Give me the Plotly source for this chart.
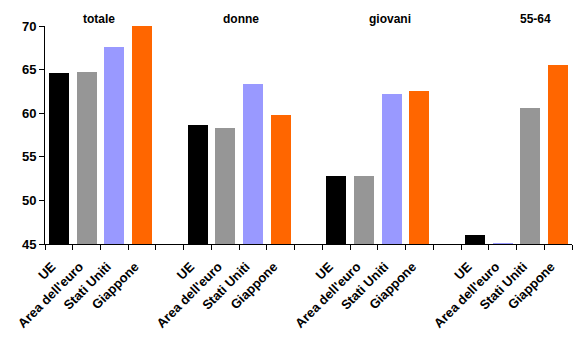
import plotly.graph_objects as go

# Tasso di occupazione per gruppo (valori percentuali)
groups = ["totale", "donne", "giovani", "55-64"]
countries = ["UE", "Area dell'euro", "Stati Uniti", "Giappone"]
totale = [64.6, 64.7, 67.6, 70.0]
donne = [58.65, 58.3, 63.35, 59.8]
giovani = [52.8, 52.8, 62.2, 62.6]
anziani = [46.0, 45.1, 60.6, 65.5]
series = [totale, donne, giovani, anziani]

# bar colours, one list per group
BLACK, GREY, LILAC, ORANGE = "#000000", "#969696", "#9999FF", "#FF6600"
group_colors = [
    [BLACK, GREY, LILAC, ORANGE],
    [BLACK, GREY, LILAC, ORANGE],
    [BLACK, GREY, LILAC, ORANGE],
    [BLACK, LILAC, GREY, ORANGE],
]
# horizontal position of each group heading (axis units)
title_x = [1.45, 6.55, 11.95, 17.2]

SLOT = len(countries) + 1  # one empty slot between groups
xs, ys, cols, labels = [], [], [], []
for g, vals in enumerate(series):
    for i, v in enumerate(vals):
        xs.append(g * SLOT + i)
        ys.append(v)
        cols.append(group_colors[g][i])
        labels.append(countries[i])
n_slots = SLOT * len(groups) - 1
xr = [-0.5, n_slots - 0.5]

font = dict(family="Liberation Sans, Arial, sans-serif", size=12, color="black")

fig = go.Figure()
fig.add_trace(go.Bar(x=xs, y=ys, marker=dict(color=cols, line=dict(width=0)),
                     width=0.72, hoverinfo="y"))
# invisible helper trace for the boundary tick axis
fig.add_trace(go.Scatter(x=xr, y=[45, 45], xaxis="x2", mode="lines",
                         line=dict(width=0), hoverinfo="skip", showlegend=False))

for g, name in enumerate(groups):
    fig.add_annotation(x=title_x[g], y=1.0, xref="x", yref="paper", yshift=16,
                       text="<b>%s</b>" % name, showarrow=False,
                       font=dict(family=font["family"], size=12, color="black"))

fig.update_layout(
    width=588, height=341,
    margin=dict(l=45, r=16, t=26, b=97),
    paper_bgcolor="white", plot_bgcolor="white",
    showlegend=False, bargap=0,
    font=font,
    xaxis=dict(range=xr, tickmode="array", tickvals=xs,
               ticktext=["<b>%s</b>" % t for t in labels],
               tickangle=-45, ticks="", showline=True, linecolor="black",
               linewidth=1, showgrid=False, zeroline=False, automargin=False,
               ticklabelstandoff=9, ticklabelshift=-7,
               tickfont=dict(size=13)),
    xaxis2=dict(range=xr, overlaying="x", anchor="y", side="bottom",
                tickmode="array", tickvals=[k - 0.5 for k in range(n_slots + 1)],
                ticks="outside", ticklen=5, tickcolor="black",
                showticklabels=False, showline=False, showgrid=False,
                zeroline=False, automargin=False),
    yaxis=dict(range=[45, 70], tickmode="array", tickvals=[45, 50, 55, 60, 65, 70],
               ticktext=["<b>%d</b>" % v for v in [45, 50, 55, 60, 65, 70]],
               ticks="outside", ticklen=5, tickcolor="black", automargin=False,
               showline=True, linecolor="black", linewidth=1,
               showgrid=False, zeroline=False, tickfont=dict(size=13)),
)

fig.write_html("out.html")
